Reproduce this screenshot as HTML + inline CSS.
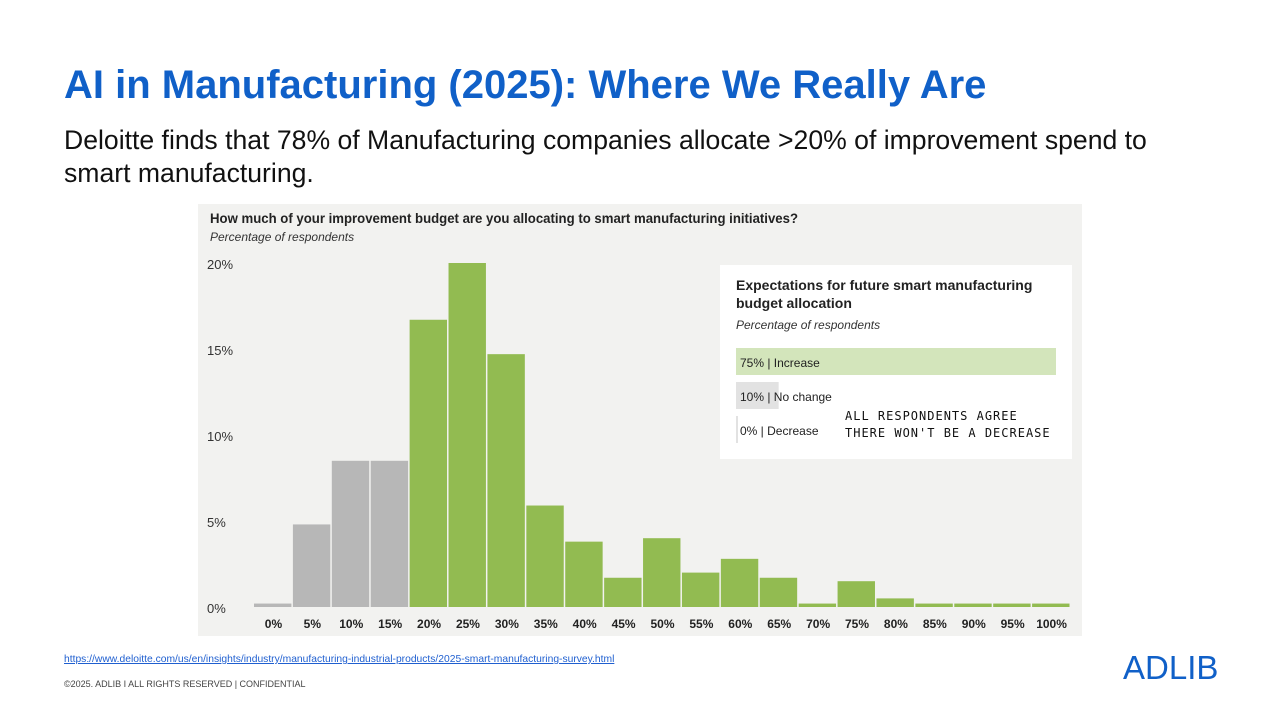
<!DOCTYPE html>
<html><head><meta charset="utf-8"><style>
body{margin:0;width:1280px;height:720px;background:#fff;font-family:"Liberation Sans",sans-serif;position:relative;overflow:hidden}
.a{position:absolute}
</style></head><body>
<div class="a" style="left:64px;top:63px;font-size:40px;font-weight:bold;color:#1060c8;white-space:nowrap">AI in Manufacturing (2025): Where We Really Are</div>
<div class="a" style="left:64px;top:124px;font-size:26.6px;line-height:33px;color:#111;width:1120px">Deloitte finds that 78% of Manufacturing companies allocate &gt;20% of improvement spend to smart manufacturing.</div>
<svg class="a" style="left:0;top:0" width="1280" height="720">
<rect x="198" y="204" width="884" height="432" fill="#f2f2f0"/>
<text x="210" y="223" font-size="14" font-weight="bold" fill="#222" textLength="588" lengthAdjust="spacingAndGlyphs">How much of your improvement budget are you allocating to smart manufacturing initiatives?</text>
<text x="210" y="241" font-size="12" font-style="italic" fill="#333">Percentage of respondents</text>
<g id="yax"></g><g id="bars"></g><g id="xax"></g>
<rect x="720" y="265" width="352" height="194" fill="#fff"/>
<text x="736" y="290" font-size="14" font-weight="bold" fill="#222">Expectations for future smart manufacturing</text>
<text x="736" y="308" font-size="14" font-weight="bold" fill="#222">budget allocation</text>
<text x="736" y="329" font-size="12" font-style="italic" fill="#333">Percentage of respondents</text>
<g id="inset"></g>
<text x="845" y="420" font-size="12" font-family="DejaVu Sans Mono, monospace" fill="#111" letter-spacing="1">ALL RESPONDENTS AGREE</text>
<text x="845" y="437" font-size="12" font-family="DejaVu Sans Mono, monospace" fill="#111" letter-spacing="1">THERE WON'T BE A DECREASE</text>
</svg>
<div class="a" style="left:64px;top:654px;font-size:10.3px;color:#1f5fd0;text-decoration:underline;white-space:nowrap">https://www.deloitte.com/us/en/insights/industry/manufacturing-industrial-products/2025-smart-manufacturing-survey.html</div>
<div class="a" style="left:64px;top:679px;font-size:9px;color:#444;white-space:nowrap">©2025. ADLIB I ALL RIGHTS RESERVED | CONFIDENTIAL</div>
<div class="a" style="left:1123px;top:649px;font-size:33px;color:#1060c8">ADLIB</div>
<script>
const categories=["0%","5%","10%","15%","20%","25%","30%","35%","40%","45%","50%","55%","60%","65%","70%","75%","80%","85%","90%","95%","100%"];
const values=[0.2,4.8,8.5,8.5,16.7,20,14.7,5.9,3.8,1.7,4.0,2.0,2.8,1.7,0.2,1.5,0.5,0.2,0.2,0.2,0.2];
const yTicks=[0,5,10,15,20];
const insetLabels=["75% | Increase","10% | No change","0% | Decrease"];
const insetValues=[75,10,0];
const NS="http://www.w3.org/2000/svg";
const x0=254,x1=1071,yb=607,yt=263;
const bw=(x1-x0)/categories.length;
const y=v=>yb-(v/20)*(yb-yt);
function mk(t,a,p){const e=document.createElementNS(NS,t);for(const k in a)e.setAttribute(k,a[k]);document.getElementById(p).appendChild(e);return e;}
yTicks.forEach(v=>{const e=mk('text',{x:207,y:y(v)+6,'font-size':13,fill:'#333'},'yax');e.textContent=v+'%';

});
values.forEach((v,i)=>{const r=mk('rect',{x:x0+i*bw,y:y(v),width:bw-1.5,height:yb-y(v),fill:i<4?'#b7b7b7':'#92bb51'},'bars');


const t=mk('text',{x:x0+i*bw+bw/2,y:628,'font-size':12,'font-weight':'bold','text-anchor':'middle',fill:'#222'},'xax');t.textContent=categories[i];

});
const ix=736,iw=320;
insetValues.forEach((v,i)=>{const yy=348+i*34;
const r=mk('rect',{x:ix,y:yy,width:Math.max(2,iw*v/75),height:27,fill:i==0?'#d3e5bb':'#e2e2e2'},'inset');


const t=mk('text',{x:ix+4,y:yy+19,'font-size':12,fill:'#222'},'inset');t.textContent=insetLabels[i];

});
</script>
</body></html>
